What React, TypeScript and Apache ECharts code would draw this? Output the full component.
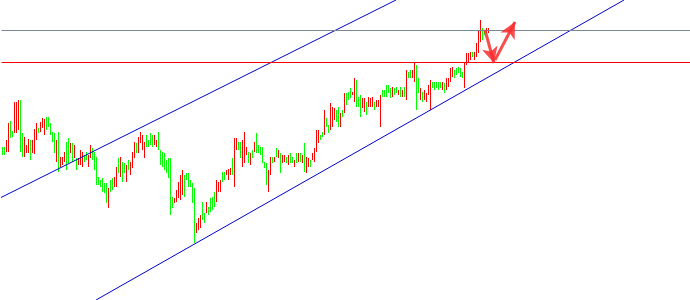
import React, { useEffect, useRef } from "react";
import * as echarts from "echarts";

// One bar per character: R = rising (red), G = falling (green)
const dirs =
  "GGRRGGRRRGGRRRGRRRGRRRGGGGGRGRRRGGRGRGRRRGGRRGGGGGGGGR" +
  "GGRRGRGGRGRRRGRRRRGGGGRRGGGGGGGGRRRRRGGGGGGRRRGGRG" +
  "GGGRRRGGRRRGRRGGRRRGRGRGGGGGGRRGRGRGRRGRGGRGRGRGRR" +
  "GRRRRGGRGGRRRGGRGRGGGRRGGGRRGRRRGRRRGGGGGRGGRGRGRG" +
  "GRRGGRGRRRRGGGGGRGRRRRGGGGGRRRRGRRRRGGRR";

const lows = [
  145, 145, 148, 148, 162, 163, 167, 167, 170, 148, 143, 143, 147, 147, 140, 147, 146, 160, 167, 168,
  172, 165, 170, 173, 165, 158, 147, 138, 128, 133, 135, 138, 130, 137, 147, 138, 142, 130, 135, 135,
  133, 138, 140, 133, 142, 140, 130, 115, 115, 113, 108, 107, 97, 92,
  108, 110, 113, 113, 127, 123, 118, 127, 118, 130, 125, 132, 142, 147, 147, 157, 150, 142, 153, 153,
  155, 153, 155, 153, 150, 135, 133, 130, 127, 122, 85, 92, 97, 98, 102, 100, 105, 103, 120, 113,
  113, 97, 57, 67, 70, 72, 80, 77, 87, 85,
  88, 90, 93, 98, 108, 108, 118, 120, 125, 120, 125, 125, 113, 150, 150, 142, 133, 137, 145, 137,
  135, 142, 148, 147, 147, 145, 137, 132, 115, 108, 125, 137, 138, 143, 142, 127, 137, 138, 137, 135,
  137, 137, 133, 137, 138, 138, 137, 128, 127, 133,
  133, 140, 138, 148, 157, 160, 163, 165, 173, 167, 170, 173, 180, 178, 173, 173, 183, 187, 195, 200,
  202, 205, 198, 193, 193, 183, 192, 188, 185, 193, 193, 193, 190, 193, 193, 173, 203, 203, 203, 207,
  202, 203, 205, 207, 205, 203, 203, 203, 200, 222,
  222, 222, 218, 190, 207, 200, 198, 200, 198, 205, 190, 212, 210, 212, 210, 212, 210, 207, 210, 213,
  218, 223, 222, 225, 227, 223, 222, 212, 235, 238, 240, 243, 240, 243, 247, 258, 260, 265, 267, 267,
];

const highs = [
  153, 153, 160, 177, 179, 169, 198, 198, 200, 200, 167, 163, 155, 161, 160, 160, 171, 177, 172, 178,
  182, 181, 183, 183, 177, 168, 167, 160, 168, 143, 143, 148, 158, 162, 157, 157, 155, 142, 142, 150,
  148, 145, 148, 145, 155, 152, 148, 143, 123, 120, 122, 117, 117, 112,
  120, 122, 123, 133, 142, 143, 138, 137, 135, 140, 138, 148, 158, 157, 163, 168, 165, 158, 165, 160,
  167, 165, 165, 160, 168, 150, 148, 147, 140, 142, 142, 103, 102, 110, 118, 125, 130, 125, 127, 127,
  120, 117, 112, 77, 82, 85, 98, 87, 98, 93,
  102, 103, 108, 120, 118, 120, 128, 128, 130, 131, 132, 142, 162, 162, 158, 158, 160, 168, 153, 148,
  147, 150, 158, 167, 155, 153, 153, 138, 137, 130, 143, 143, 143, 152, 150, 147, 145, 145, 143, 145,
  147, 143, 140, 147, 147, 147, 145, 157, 143, 142,
  140, 147, 152, 170, 170, 165, 168, 190, 182, 175, 197, 193, 192, 190, 193, 187, 190, 207, 207, 208,
  212, 208, 222, 220, 203, 205, 202, 202, 198, 203, 202, 203, 198, 200, 200, 205, 210, 210, 215, 215,
  212, 213, 212, 213, 210, 213, 210, 213, 230, 228,
  230, 230, 237, 235, 222, 212, 208, 210, 207, 215, 220, 218, 218, 218, 218, 218, 218, 217, 222, 222,
  232, 233, 230, 232, 233, 232, 228, 238, 247, 247, 248, 248, 248, 257, 270, 280, 272, 270, 272, 272,
];

// Drawn studies, in (bar position, price)
const upperChannel = [[-0.75, 102], [197.25, 300]];
const lowerChannel = [[47.25, 0], [311.25, 300]];
const resistanceLevel = 270;
const supportLevel = 238;
const arrowDown = [[241.75, 270], [246.25, 237]];
const arrowUp = [[246.75, 240], [256.75, 278]];

const slotCount = 345;
const categories = Array.from({ length: slotCount }, (_, i) => String(i + 1));

const UP_COLOR = "#ff0000";
const DOWN_COLOR = "#00ff00";

export default function App() {
  const ref = useRef<HTMLDivElement>(null);

  useEffect(() => {
    if (!ref.current) return;
    const chart = echarts.init(ref.current, undefined, { renderer: "svg" });

    const baseData = lows.map((lo) => lo);
    const rangeData = lows.map((lo, i) => ({
      value: highs[i] - lo,
      itemStyle: { color: dirs[i] === "R" ? UP_COLOR : DOWN_COLOR },
    }));

    const arrowColor = "rgba(248,45,45,0.85)";

    chart.setOption({
      animation: false,
      backgroundColor: "#ffffff",
      grid: { left: 1.5, right: 0.5, top: 0, bottom: 0 },
      xAxis: [
        { type: "category", data: categories, show: false, boundaryGap: true },
        { type: "value", min: 0, max: slotCount, show: false },
      ],
      yAxis: { type: "value", min: 0, max: 300, show: false, splitLine: { show: false } },
      series: [
        {
          type: "line",
          xAxisIndex: 1,
          data: [],
          silent: true,
          markLine: {
            silent: true,
            symbol: ["none", "none"],
            label: { show: false },
            data: [
              { yAxis: resistanceLevel, lineStyle: { color: "#778899", width: 1, type: "solid" } },
              { yAxis: supportLevel, lineStyle: { color: "#ff0000", width: 1, type: "solid" } },
            ],
          },
        },
        {
          type: "line",
          xAxisIndex: 1,
          data: upperChannel,
          showSymbol: false,
          silent: true,
          clip: true,
          lineStyle: { color: "#0000cd", width: 1 },
        },
        {
          type: "line",
          xAxisIndex: 1,
          data: lowerChannel,
          showSymbol: false,
          silent: true,
          lineStyle: { color: "#0000cd", width: 1 },
        },
        {
          type: "bar",
          xAxisIndex: 0,
          stack: "hl",
          silent: true,
          barWidth: 1,
          z: 3,
          itemStyle: { color: "rgba(0,0,0,0)" },
          data: baseData,
        },
        {
          type: "bar",
          xAxisIndex: 0,
          stack: "hl",
          silent: true,
          barWidth: 1,
          z: 3,
          data: rangeData,
        },
        {
          type: "line",
          xAxisIndex: 1,
          data: [],
          silent: true,
          z: 5,
          markLine: {
            silent: true,
            symbol: ["none", "arrow"],
            symbolSize: [12, 16],
            label: { show: false },
            itemStyle: { color: arrowColor },
            lineStyle: { color: arrowColor, width: 3, type: "solid" },
            data: [
              [{ coord: arrowDown[0] }, { coord: arrowDown[1] }],
              [{ coord: arrowUp[0] }, { coord: arrowUp[1] }],
            ],
          },
        },
      ],
    });

    return () => chart.dispose();
  }, []);

  return (
    <div style={{ position: "fixed", left: 0, top: 0, width: 690, height: 300, overflow: "hidden", background: "#fff" }}>
      <div ref={ref} style={{ width: 692, height: 300 }} />
    </div>
  );
}
